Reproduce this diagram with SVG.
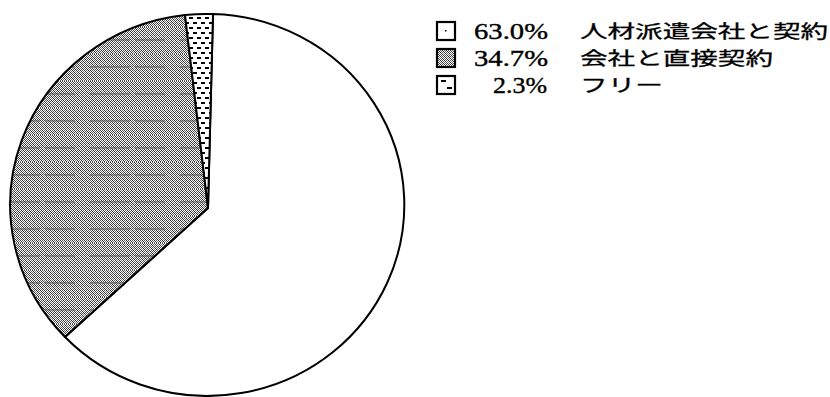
<svg xmlns="http://www.w3.org/2000/svg" width="830" height="397" viewBox="0 0 830 397">
<style>
.slice{stroke:#000;stroke-width:2;stroke-linejoin:round}
.box{stroke:#000;stroke-width:2.2}
.num{font-family:"Liberation Serif",serif;font-size:24px;fill:#000;stroke:#000;stroke-width:0.4}
.jp{font-family:"Noto Sans CJK JP",sans-serif;font-size:18px;fill:#000;stroke:#000;stroke-width:0.3}
</style>
<defs>
<pattern id="dither" width="4" height="4" patternUnits="userSpaceOnUse">
<rect width="4" height="4" fill="#fff"/>
<rect x="0" y="0" width="1" height="1" fill="#333"/>
<rect x="2" y="0" width="1" height="1" fill="#555"/>
<rect x="1" y="1" width="1" height="1" fill="#333"/>
<rect x="3" y="1" width="1" height="1" fill="#777"/>
<rect x="0" y="2" width="1" height="1" fill="#666"/>
<rect x="2" y="2" width="1" height="1" fill="#333"/>
<rect x="1" y="3" width="1" height="1" fill="#555"/>
<rect x="3" y="3" width="1" height="1" fill="#333"/>
</pattern>
<pattern id="hatch" width="90" height="27" patternUnits="userSpaceOnUse">
<rect width="90" height="27" fill="url(#dither)"/>
<line x1="0" y1="13" x2="90" y2="13" stroke="#555" stroke-width="1" stroke-dasharray="40 5 30 15"/>
</pattern>
<pattern id="dash" width="8" height="10" patternUnits="userSpaceOnUse">
<rect width="8" height="10" fill="#fff"/>
<rect x="1" y="2" width="4" height="2" fill="#000"/>
<rect x="5" y="7" width="3" height="2" fill="#000"/>
<rect x="0" y="7" width="1" height="2" fill="#000"/>
</pattern>
</defs>
<g id="pie">
<g id="slice-agency"><path class="slice" fill="#fff" d="M208,208 L213,14 A197,191 0 1,1 65,337 Z"/></g>
<g id="slice-direct"><path class="slice" fill="url(#hatch)" d="M208,208 L65,337 A197,191 0 0,1 185,15 Z"/></g>
<g id="slice-free"><path class="slice" fill="url(#dash)" d="M208,208 L185,15 A197,191 0 0,1 213,14 Z"/></g>
</g>
<g id="legend">
<g id="legend-1">
<rect class="box" x="437" y="22" width="18" height="18" fill="#fff"/>
<rect x="445" y="30" width="1.5" height="1.5" fill="#000"/>
<text class="num" x="474" y="39" textLength="74" lengthAdjust="spacingAndGlyphs">63.0%</text>
<text class="jp" x="580" y="38" textLength="248" lengthAdjust="spacingAndGlyphs">人材派遣会社と契約</text>
</g>
<g id="legend-2">
<rect class="box" x="437" y="49" width="18" height="18" fill="url(#dither)"/>
<text class="num" x="474" y="66" textLength="74" lengthAdjust="spacingAndGlyphs">34.7%</text>
<text class="jp" x="580" y="65" textLength="193" lengthAdjust="spacingAndGlyphs">会社と直接契約</text>
</g>
<g id="legend-3">
<rect class="box" x="437" y="76" width="18" height="18" fill="#fff"/>
<rect x="441" y="80" width="5" height="2" fill="#000"/>
<rect x="447" y="87" width="5" height="2" fill="#000"/>
<text class="num" x="493" y="93" textLength="54" lengthAdjust="spacingAndGlyphs">2.3%</text>
<text class="jp" x="580" y="92" textLength="83" lengthAdjust="spacingAndGlyphs">フリー</text>
</g>
</g>
</svg>
